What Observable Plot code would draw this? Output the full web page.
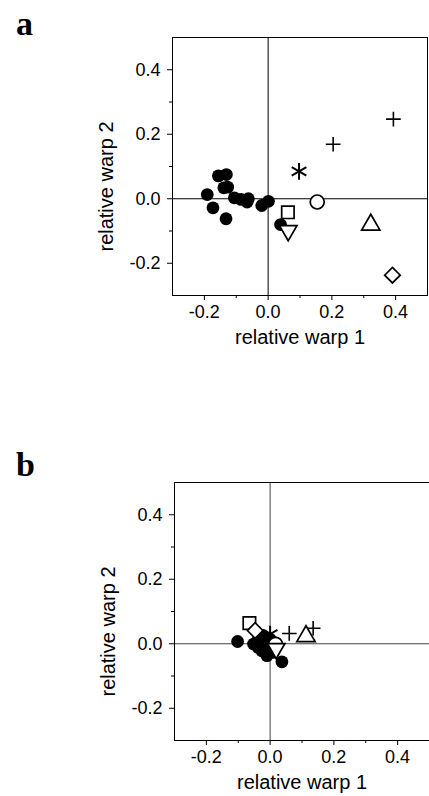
<!DOCTYPE html>
<html>
<head>
<meta charset="utf-8">
<script src="https://cdn.jsdelivr.net/npm/d3@7"></script>
<script src="https://cdn.jsdelivr.net/npm/@observablehq/plot@0.6"></script>
<style>
  html, body { margin: 0; padding: 0; background: #fff; }
  #fig { position: relative; width: 429px; height: 796px; overflow: hidden; background: #fff; }
  .letter { position: absolute; z-index: 2; font-family: "Liberation Serif", "Times New Roman", serif; font-weight: bold; font-size: 34px; line-height: 1; }
  .panel { position: absolute; left: 0; z-index: 1; }
</style>
</head>
<body>
<div id="fig">
  <div class="panel" id="pa" style="top:0px;"></div>
  <div class="panel" id="pb" style="top:398px;"></div>
  <div class="letter" style="left:16px; top:7px;">a</div>
  <div class="letter" style="left:16px; top:448px;">b</div>
</div>
<script>
// ---- data ----
const majorTicks = [-0.2, 0.0, 0.2, 0.4];
const minorTicks = [-0.1, 0.1, 0.3];
const xLabel = "relative warp 1";
const yLabel = "relative warp 2";

// Panel a: filled circles
const aFilledX = [-0.191, -0.173, -0.156, -0.131, -0.139, -0.127, -0.132, -0.106, -0.085, -0.062, -0.066, -0.020, 0.001, 0.039];
const aFilledY = [0.013, -0.028, 0.071, 0.075, 0.034, 0.036, -0.062, 0.003, -0.002, 0.000, -0.010, -0.021, -0.008, -0.080];
// Panel a: other specimens
const aSymbols = ["square", "triangleDown", "asterisk", "circleOpen", "plus", "plus", "triangle", "diamond"];
const aX = [0.062, 0.063, 0.097, 0.154, 0.204, 0.393, 0.322, 0.390];
const aY = [-0.042, -0.099, 0.085, -0.010, 0.169, 0.247, -0.081, -0.237];

// Panel b: filled circles
const bFilledX = [-0.102, -0.052, -0.037, -0.021, -0.026, -0.010, -0.005, 0.000, -0.016, 0.010, -0.037, 0.037, -0.030, -0.005];
const bFilledY = [0.007, -0.001, 0.014, 0.025, -0.022, -0.037, -0.006, 0.014, 0.002, -0.027, -0.012, -0.056, 0.005, -0.020];
// Panel b: other specimens
const bSymbols = ["square", "triangleDown", "asterisk", "circleOpen", "plus", "plus", "triangle", "diamond"];
const bX = [-0.065, 0.019, 0.000, 0.017, 0.060, 0.135, 0.1125, -0.047];
const bY = [0.064, -0.015, 0.030, -0.002, 0.032, 0.048, 0.023, 0.041];

// ---- symbol definitions ----
const triangleDown = {
  draw(context, size) {
    const y = -Math.sqrt(size / (Math.sqrt(3) * 3));
    context.moveTo(0, -2 * y);
    context.lineTo(-Math.sqrt(3) * y, y);
    context.lineTo(Math.sqrt(3) * y, y);
    context.closePath();
  }
};
// drawing order: asterisk beneath the filled circles, the rest above
const underStyle = {
  asterisk:     {symbol: "asterisk", r: 8.0, fill: "none",  stroke: "black", sw: 2}
};
const overStyle = {
  circleOpen:   {symbol: "circle",   r: 7.0, fill: "white", stroke: "black", sw: 1.7},
  square:       {symbol: "square",   r: 7.0, fill: "white", stroke: "black", sw: 1.7},
  triangleDown: {symbol: triangleDown, r: 6.5, fill: "white", stroke: "black", sw: 1.7},
  plus:         {symbol: "plus",     r: 4.8, fill: "none",  stroke: "black", sw: 1.6},
  triangle:     {symbol: "triangle", r: 6.8, fill: "white", stroke: "black", sw: 1.7},
  diamond:      {symbol: "diamond2", r: 7.0, fill: "white", stroke: "black", sw: 1.7}
};

const fmt = d => d.toFixed(1);

function symbolMarks(styles, others) {
  return Object.keys(styles).map(k => {
    const st = styles[k];
    return Plot.dot(others.filter(d => d.s === k), {
      x: "x", y: "y", symbol: st.symbol, r: st.r,
      fill: st.fill, stroke: st.stroke, strokeWidth: st.sw
    });
  });
}

function panel(filledX, filledY, syms, xs, ys, opts) {
  const filled = filledX.map((x, i) => ({x, y: filledY[i]}));
  const others = syms.map((s, i) => ({s, x: xs[i], y: ys[i]}));
  return Plot.plot({
    width: 429,
    height: 398,
    marginTop: opts.top,
    marginBottom: 398 - opts.top - 258,
    marginLeft: opts.left,
    marginRight: opts.right,
    style: {fontFamily: "'Liberation Sans', Arial, sans-serif", background: "transparent", overflow: "visible"},
    x: {domain: [-0.3, 0.5]},
    y: {domain: [-0.3, 0.5]},
    marks: [
      Plot.ruleX([0], {stroke: opts.zero, strokeWidth: 1}),
      Plot.ruleY([0], {stroke: opts.zero, strokeWidth: 1}),
      Plot.axisX(majorTicks, {tickFormat: fmt, tickSize: 5, tickPadding: 5, fontSize: 18, label: null, stroke: "black", color: "black"}),
      Plot.axisX(minorTicks, {tickFormat: () => "", tickSize: 3, label: null, stroke: "black"}),
      Plot.axisY(majorTicks, {tickFormat: fmt, tickSize: 5, tickPadding: 7, fontSize: 18, label: null, stroke: "black", color: "black"}),
      Plot.axisY(minorTicks, {tickFormat: () => "", tickSize: 3, label: null, stroke: "black"}),
      Plot.frame({stroke: "black", strokeWidth: 1}),
      ...symbolMarks(underStyle, others),
      Plot.dot(filled, {x: "x", y: "y", r: 6.4, fill: "black", stroke: "none"}),
      ...symbolMarks(overStyle, others),
      Plot.text([xLabel], {frameAnchor: "bottom", dy: 42, fontSize: 20, fill: "black", lineAnchor: "middle", textAnchor: "middle"}),
      Plot.text([yLabel], {frameAnchor: "left", dx: -66, dy: 20, rotate: -90, fontSize: 20, fill: "black", lineAnchor: "middle", textAnchor: "middle"})
    ]
  });
}

document.getElementById("pa").appendChild(
  panel(aFilledX, aFilledY, aSymbols, aX, aY, {top: 37, left: 172, right: 2, zero: "black"})
);
document.getElementById("pb").appendChild(
  panel(bFilledX, bFilledY, bSymbols, bX, bY, {top: 84, left: 174, right: 0, zero: "#444"})
);
</script>
</body>
</html>
